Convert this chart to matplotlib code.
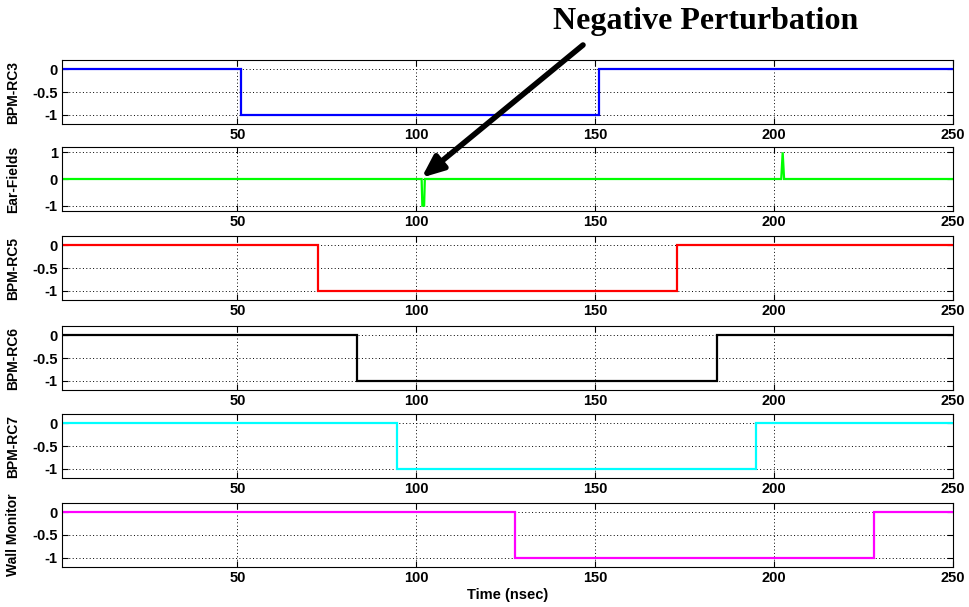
import matplotlib
matplotlib.use("Agg")
import matplotlib.pyplot as plt

# ---- data ----
t_rc3 = [1, 51, 51, 151, 151, 250]
v_rc3 = [0, 0, -1, -1, 0, 0]

t_ear = [1, 101.5, 101.7, 102.2, 102.4, 202.0, 202.4, 202.8, 250]
v_ear = [0, 0, -1, -1, 0, 0, 1, 0, 0]

t_rc5 = [1, 72.5, 72.5, 173, 173, 250]
v_rc5 = [0, 0, -1, -1, 0, 0]

t_rc6 = [1, 83.5, 83.5, 184, 184, 250]
v_rc6 = [0, 0, -1, -1, 0, 0]

t_rc7 = [1, 94.5, 94.5, 195, 195, 250]
v_rc7 = [0, 0, -1, -1, 0, 0]

t_wall = [1, 127.5, 127.5, 228, 228, 250]
v_wall = [0, 0, -1, -1, 0, 0]

labels = ["BPM-RC3", "Ear-Fields", "BPM-RC5", "BPM-RC6", "BPM-RC7", "Wall Monitor"]
colors = ["#0000ff", "#00ff00", "#ff0000", "#000000", "#00ffff", "#ff00ff"]
series = [(t_rc3, v_rc3), (t_ear, v_ear), (t_rc5, v_rc5),
          (t_rc6, v_rc6), (t_rc7, v_rc7), (t_wall, v_wall)]
xticks = [50, 100, 150, 200, 250]
step_yticks = [0, -0.5, -1]
step_yticklabels = ["0", "-0.5", "-1"]
ear_yticks = [1, 0, -1]
ear_yticklabels = ["1", "0", "-1"]

W, H = 970, 607
fig = plt.figure(figsize=(W / 100, H / 100), dpi=100)
fig.patch.set_facecolor("white")

font = ["Liberation Sans", "DejaVu Sans"]
tops = [60, 147, 236, 326, 414, 503]
ph = 64
left, right = 62, 953

axes = []
for i, (top, (t, v)) in enumerate(zip(tops, series)):
    ax = fig.add_axes([left / W, 1 - (top + ph) / H, (right - left) / W, ph / H])
    ax.plot(t, v, color=colors[i], lw=1.6, solid_joinstyle="miter")
    ax.set_xlim(1, 250)
    if i == 1:
        ax.set_ylim(-1.2, 1.2)
        ax.set_yticks(ear_yticks)
        ax.set_yticklabels(ear_yticklabels)
    else:
        ax.set_ylim(-1.2, 0.2)
        ax.set_yticks(step_yticks)
        ax.set_yticklabels(step_yticklabels)
    ax.set_xticks(xticks)
    ax.set_xticklabels([str(x) for x in xticks])
    ax.grid(True, color="black", linestyle=(0, (1, 2.5)), linewidth=0.7)
    ax.tick_params(direction="in", length=4, width=0.8, labelsize=10.5, pad=3,
                   top=True, right=True)
    for lab in ax.get_xticklabels() + ax.get_yticklabels():
        lab.set_fontweight("bold")
        lab.set_family(font)
    for s in ax.spines.values():
        s.set_linewidth(0.8)
    ax.set_ylabel(labels[i], fontsize=10, fontweight="bold", family=font, labelpad=4)
    ax.yaxis.set_label_coords(-0.047, 0.5)
    axes.append(ax)

axes[-1].set_xlabel("Time (nsec)", fontsize=10.5, fontweight="bold", family=font, labelpad=2)

fig.text(553 / W, 1 - 22 / H, "Negative Perturbation", fontsize=23, fontweight="bold",
         family=["Liberation Serif", "DejaVu Serif"], va="center", ha="left")

axes[1].annotate("", xy=(101.5, 0.05), xycoords="data",
                 xytext=(583 / W, 1 - 45 / H), textcoords="figure fraction",
                 arrowprops=dict(arrowstyle="-|>,head_length=1.3,head_width=0.55",
                                 color="black", lw=4, shrinkA=0, shrinkB=0),
                 annotation_clip=False)

fig.savefig("out.png", dpi=100, facecolor="white")
